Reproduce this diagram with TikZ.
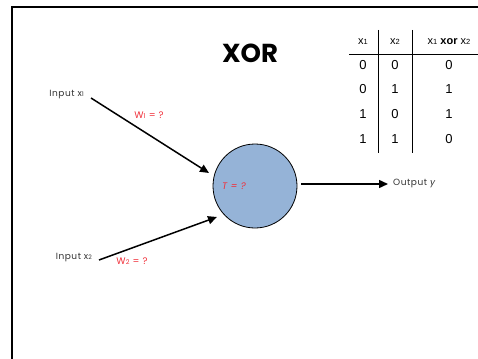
\documentclass[tikz,border=0pt]{standalone}
\usepackage{fontspec}
\setmainfont{Poppins}
\newfontfamily\tabfont{Liberation Sans}
\newfontfamily\lblfont[LetterSpace=6]{Poppins}
\usetikzlibrary{arrows.meta}
\definecolor{nodeblue}{HTML}{95B3D7}
\definecolor{wred}{HTML}{F0303A}
\makeatletter
\newcommand{\smsub}[1]{{\fontsize{\dimexpr0.68\dimexpr\f@size pt\relax\relax}{1pt}\selectfont #1}}
\makeatother
\tikzset{
  lbl/.style={font=\lblfont\fontsize{9}{10}\selectfont, text=black!80, inner sep=0pt},
  wlbl/.style={font=\lblfont\fontsize{9.5}{10}\selectfont, text=wred, inner sep=0pt},
  tab/.style={font=\tabfont\fontsize{13}{14}\selectfont, inner sep=0pt},
  tabh/.style={font=\tabfont\fontsize{11}{12}\selectfont, inner sep=0pt},
  conn/.style={line width=1.5pt, -{Triangle[length=9pt,width=8pt]}},
}
\begin{document}
\begin{tikzpicture}[x=1pt,y=-1pt]
\useasboundingbox (0,0) rectangle (478,358);
% frame
\draw[line width=2.2pt] (12,360) -- (12,7) -- (480,7);
% title
\node[font=\bfseries\fontsize{26}{28}\selectfont, inner sep=0pt] (title) at (250,53) {XOR};
% table
\draw[line width=0.8pt] (349,54) -- (480,54);
\draw[line width=0.8pt] (378,30) -- (378,153);
\draw[line width=0.8pt] (412,30) -- (412,153);
\node[tabh] (h1) at (363,42) {x\smsub{1}};
\node[tabh] (h2) at (395,42) {x\smsub{2}};
\node[tabh] (h3) at (449,42) {x\smsub{1} \textbf{xor} x\smsub{2}};
\foreach \a/\b/\c [count=\i] in {0/0/0,0/1/1,1/0/1,1/1/0}{
  \node[tab] (ra\i) at (363,40+\i*24.7) {\a};
  \node[tab] (rb\i) at (395,40+\i*24.7) {\b};
  \node[tab] (rc\i) at (449,40+\i*24.7) {\c};
}
% neuron
\node[circle, draw, line width=0.8pt, fill=nodeblue, minimum size=84pt, inner sep=0pt] (n) at (255,186) {};
\node[wlbl, font=\lblfont\itshape\fontsize{9.5}{10}\selectfont] (T) at (234,186) {T = ?};
% inputs
\node[lbl, anchor=east] (in1) at (84,95) {Input x\smsub{1}};
\node[lbl, anchor=east] (in2) at (92,258) {Input x\smsub{2}};
\node[lbl, anchor=west] (out) at (393,183) {Output \textit{y}};
\coordinate (s1) at (91,98);
\coordinate (e1) at (209,173);
\coordinate (s2) at (99,260);
\coordinate (e2) at (217,217);
\coordinate (s3) at (301,184);
\coordinate (e3) at (388,184);
\draw[conn] (s1) -- (e1);
\draw[conn] (s2) -- (e2);
\draw[conn] (s3) -- (e3);
\node[wlbl] (w1) at (149,115) {W\smsub{1} = ?};
\node[wlbl] (w2) at (132,261) {W\smsub{2} = ?};
\end{tikzpicture}
\end{document}
